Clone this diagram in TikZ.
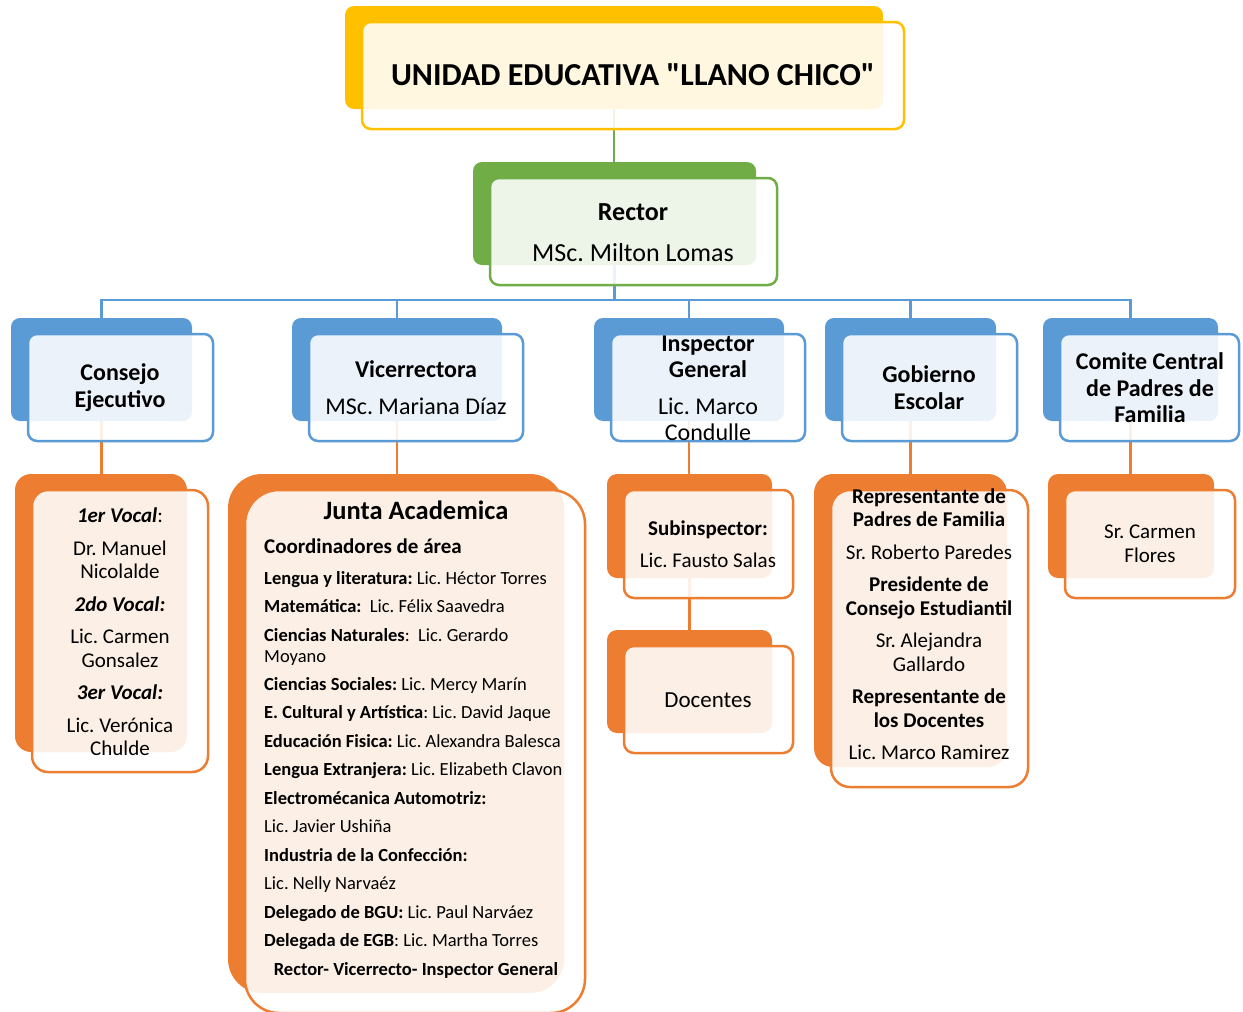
\documentclass[tikz,border=0pt]{standalone}
\usepackage{fontspec}
\setmainfont{Carlito}
\usetikzlibrary{backgrounds}
\definecolor{cy}{HTML}{FFC000}
\definecolor{cg}{HTML}{70AD47}
\definecolor{cb}{HTML}{5B9BD5}
\definecolor{co}{HTML}{ED7D31}
\newcommand\sq{\XeTeXglyph\XeTeXcharglyph"22\relax}
% name, color, x1, y1, x2, y2 (back rectangle), corner radius
\newcommand\orgbox[7]{%
  \node[backbox, fill=#2, rounded corners=#7, minimum width={#5-#3}, minimum height={#6-#4}]
    (#1) at ({(#3+#5)/2},{(#4+#6)/2}) {};
  \node[frontbox, draw=#2, rounded corners=#7, minimum width={#5-#3+4}, minimum height={#6-#4+4}]
    (#1f) at ({(#3+#5)/2+19},{(#4+#6)/2+18}) {};
}
\begin{document}
\frenchspacing
\begin{tikzpicture}[x=1pt,y=-1pt,
  backbox/.style={draw=none, inner sep=0pt, outer sep=0pt},
  frontbox/.style={line width=2.5pt, fill=white, fill opacity=0.88, inner sep=0pt, outer sep=0pt},
  conn/.style={line width=2.5pt},
  txt/.style={align=center, inner sep=0pt, text=black},
  jl/.style={anchor=base west, inner sep=0pt, font=\fontsize{18.5}{21}\selectfont},
]
\useasboundingbox (0,0) rectangle (1243,1012);

% ---------- boxes ----------
\orgbox{title}{cy}{345}{6}{883}{109}{9}
\orgbox{rector}{cg}{473}{162}{756}{265}{9}
\orgbox{cons}{cb}{11}{318}{192}{421}{9}
\orgbox{vice}{cb}{292}{318}{502}{421}{9}
\orgbox{insp}{cb}{594}{318}{784}{421}{9}
\orgbox{gob}{cb}{825}{318}{996}{421}{9}
\orgbox{com}{cb}{1043}{318}{1218}{421}{9}
\orgbox{consk}{co}{15}{474}{187}{752}{16}
\orgbox{junta}{co}{228}{474}{564}{993}{34}
\orgbox{sub}{co}{607}{474}{772}{578}{10}
\orgbox{doc}{co}{607}{630}{772}{733}{10}
\orgbox{gobk}{co}{814}{474}{1007}{767}{19}
\orgbox{comk}{co}{1048}{474}{1214}{578}{10}

% ---------- connectors ----------
\begin{scope}[on background layer]
\draw[conn, cg] (title.south) -- (title.south |- rector.north);
\draw[conn, cb] (rector.south) -- ++(0,35) -| (cons.north);
\draw[conn, cb] (rector.south) -- ++(0,35) -| (vice.north);
\draw[conn, cb] (rector.south) -- ++(0,35) -| (insp.north);
\draw[conn, cb] (rector.south) -- ++(0,35) -| (gob.north);
\draw[conn, cb] (rector.south) -- ++(0,35) -| (com.north);
\draw[conn, co] (cons.south) -- (cons.south |- consk.north);
\draw[conn, co] (vice.south) -- (vice.south |- junta.north);
\draw[conn, co] (insp.south) -- (insp.south |- sub.north);
\draw[conn, co] (sub.south) -- (sub.south |- doc.north);
\draw[conn, co] (gob.south) -- (gob.south |- gobk.north);
\draw[conn, co] (com.south) -- (com.south |- comk.north);
\end{scope}

% ---------- texts ----------
\node[txt, font=\fontsize{32}{36}\selectfont\bfseries] (ttitle) at (633,75) {UNIDAD EDUCATIVA \sq LLANO CHICO\sq};
\node[txt, font=\fontsize{26}{41}\selectfont] (trector) at (633,233) {\textbf{Rector}\\MSc. Milton Lomas};

\node[txt, font=\fontsize{24}{27}\selectfont\bfseries] (tcons) at (120,388) {Consejo\\Ejecutivo};
\node[txt, font=\fontsize{24}{37}\selectfont] (tvice) at (416,388) {\textbf{Vicerrectora}\\MSc. Mariana Díaz};
\node[txt, font=\fontsize{24}{26}\selectfont] (tinsp) at (708,388) {\textbf{Inspector}\\\textbf{General}\\[11pt]Lic. Marco\\Condulle};
\node[txt, font=\fontsize{24}{27}\selectfont\bfseries] (tgob) at (929,388) {Gobierno\\Escolar};
\node[txt, font=\fontsize{24}{26.5}\selectfont\bfseries] (tcom) at (1150,388) {Comite Central\\de Padres de\\Familia};

\node[txt, font=\fontsize{21}{23.5}\selectfont] (tconsk) at (120,632)
  {\textbf{\textit{1er Vocal}}:\\[9pt]Dr. Manuel\\Nicolalde\\[9pt]\textbf{\textit{2do Vocal:}}\\[9pt]Lic. Carmen\\Gonsalez\\[9pt]\textbf{\textit{3er Vocal:}}\\[9pt]Lic. Verónica\\Chulde};
\node[txt, font=\fontsize{21}{32}\selectfont] (tsub) at (708,544) {\textbf{Subinspector:}\\Lic. Fausto Salas};
\node[txt, font=\fontsize{23}{28}\selectfont] (tdoc) at (708,700) {Docentes};
\node[txt, font=\fontsize{21}{23.5}\selectfont] (tgobk) at (929,624)
  {\textbf{Representante de}\\\textbf{Padres de Familia}\\[9pt]Sr. Roberto Paredes\\[9pt]\textbf{Presidente de}\\\textbf{Consejo Estudiantil}\\[9pt]Sr. Alejandra\\Gallardo\\[9pt]\textbf{Representante de}\\\textbf{los Docentes}\\[9pt]Lic. Marco Ramirez};
\node[txt, font=\fontsize{21}{24}\selectfont] (tcomk) at (1150,544) {Sr. Carmen\\Flores};

\node[txt, font=\fontsize{26.5}{30}\selectfont\bfseries] (jt) at (416,510) {Junta Academica};
\node[anchor=base west, inner sep=0pt, font=\fontsize{21}{24}\selectfont\bfseries] (j0) at (264,553) {Coordinadores de área};
\node[jl] (j1) at (264,584) {\textbf{Lengua y literatura:} Lic. Héctor Torres};
\node[jl] (j2) at (264,612) {\textbf{Matemática:}\ \ Lic. Félix Saavedra};
\node[jl] (j3) at (264,641) {\textbf{Ciencias Naturales}:\ \ Lic. Gerardo};
\node[jl] (j3b) at (264,662) {Moyano};
\node[jl] (j4) at (264,690) {\textbf{Ciencias Sociales:} Lic. Mercy Marín};
\node[jl] (j5) at (264,718) {\textbf{E. Cultural y Artística}: Lic. David Jaque};
\node[jl] (j6) at (264,747) {\textbf{Educación Fisica:} Lic. Alexandra Balesca};
\node[jl] (j7) at (264,775) {\textbf{Lengua Extranjera:} Lic. Elizabeth Clavon};
\node[jl] (j8) at (264,804) {\textbf{Electromécanica Automotriz:}};
\node[jl] (j9) at (264,832) {Lic. Javier Ushiña};
\node[jl] (j10) at (264,861) {\textbf{Industria de la Confección:}};
\node[jl] (j11) at (264,889) {Lic. Nelly Narvaéz};
\node[jl] (j12) at (264,918) {\textbf{Delegado de BGU:} Lic. Paul Narváez};
\node[jl] (j13) at (264,946) {\textbf{Delegada de EGB}: Lic. Martha Torres};
\node[jl, anchor=base, font=\fontsize{18.5}{21}\selectfont\bfseries] (j14) at (416,975) {Rector- Vicerrecto- Inspector General};
\end{tikzpicture}
\end{document}
